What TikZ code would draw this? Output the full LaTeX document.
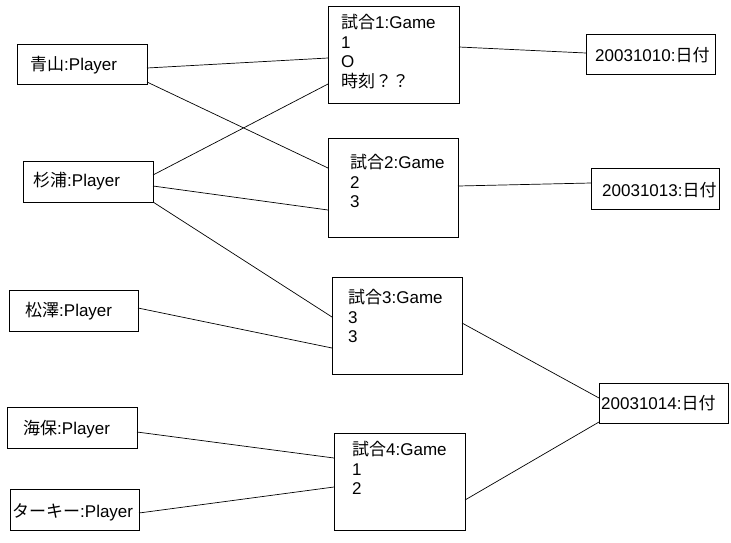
\documentclass[tikz,border=0pt]{standalone}
\usepackage{fontspec}
\setmainfont{Liberation Sans}
\newfontfamily\jp{Noto Sans CJK JP}
\usetikzlibrary{calc}
\begin{document}
\begin{tikzpicture}[x=1pt,y=-1pt,
  box/.style={draw, line width=1pt, rectangle, inner sep=0pt, outer sep=0pt, anchor=north west},
  txt/.style={inner sep=0pt, anchor=west, font=\fontsize{17}{19.5}\selectfont},
  multi/.style={inner sep=0pt, anchor=north west, align=left, font=\fontsize{17}{19.5}\selectfont},
  link/.style={line width=0.7pt}]
\useasboundingbox (0,0) rectangle (731,542);

% players
\node[box, minimum width=130pt, minimum height=40pt] (aoyama)    at (17,44)  {};
\node[box, minimum width=130pt, minimum height=41pt] (sugiura)   at (23,161) {};
\node[box, minimum width=129pt, minimum height=41pt] (matsuzawa) at (9,290)  {};
\node[box, minimum width=130pt, minimum height=41pt] (kaiho)     at (7,407)  {};
\node[box, minimum width=129pt, minimum height=41pt] (turkey)    at (10,489) {};

\node[txt] (aoyamat)    at (30,65)  {{\jp 青山}:Player};
\node[txt] (sugiurat)   at (33,181) {{\jp 杉浦}:Player};
\node[txt] (matsuzawat) at (25,311) {{\jp 松澤}:Player};
\node[txt] (kaihot)     at (23,429) {{\jp 海保}:Player};
\node[txt] (turkeyt)    at (12,512) {{\jp ターキー}:Player};

% games
\node[box, minimum width=131pt, minimum height=97pt] (game1) at (328,6)   {};
\node[box, minimum width=130pt, minimum height=99pt] (game2) at (328,138) {};
\node[box, minimum width=130pt, minimum height=97pt] (game3) at (332,277) {};
\node[box, minimum width=131pt, minimum height=97pt] (game4) at (334,433) {};

\node[multi] (game1t) at (341,14.5)  {{\jp 試合}1:Game\\1\\O\\{\jp 時刻？？}};
\node[multi] (game2t) at (350,154.5) {{\jp 試合}2:Game\\2\\3};
\node[multi] (game3t) at (348,289.5) {{\jp 試合}3:Game\\3\\3};
\node[multi] (game4t) at (352,441.5) {{\jp 試合}4:Game\\1\\2};

% dates
\node[box, minimum width=129pt, minimum height=40pt] (d1010) at (586,34)  {};
\node[box, minimum width=128pt, minimum height=41pt] (d1013) at (591,168) {};
\node[box, minimum width=129pt, minimum height=40pt] (d1014) at (599,383) {};

\node[txt] (d1010t) at (595,55)  {20031010:{\jp 日付}};
\node[txt] (d1013t) at (602,190) {20031013:{\jp 日付}};
\node[txt] (d1014t) at (601,403) {20031014:{\jp 日付}};

% players to games
\draw[link] ($(aoyama.north east)+(0,24)$)    -- ($(game1.north west)+(0,52)$);
\draw[link] ($(aoyama.north east)+(0,38)$)    -- ($(game2.north west)+(0,30)$);
\draw[link] ($(sugiura.north east)+(0,14)$)   -- ($(game1.north west)+(0,78)$);
\draw[link] ($(sugiura.north east)+(0,25)$)   -- ($(game2.north west)+(0,72)$);
\draw[link] (sugiura.south east)              -- ($(game3.north west)+(0,40)$);
\draw[link] ($(matsuzawa.north east)+(0,18)$) -- ($(game3.north west)+(0,71)$);
\draw[link] ($(kaiho.north east)+(0,25)$)     -- ($(game4.north west)+(0,25)$);
\draw[link] ($(turkey.north east)+(0,24)$)    -- ($(game4.north west)+(0,54)$);

% games to dates
\draw[link] ($(game1.north east)+(0,41)$) -- ($(d1010.north west)+(0,19)$);
\draw[link] ($(game2.north east)+(0,48)$) -- ($(d1013.north west)+(0,15)$);
\draw[link] ($(game3.north east)+(0,46)$) -- ($(d1014.north west)+(0,15)$);
\draw[link] ($(game4.north east)+(0,67)$) -- ($(d1014.north west)+(0,39)$);
\end{tikzpicture}
\end{document}
